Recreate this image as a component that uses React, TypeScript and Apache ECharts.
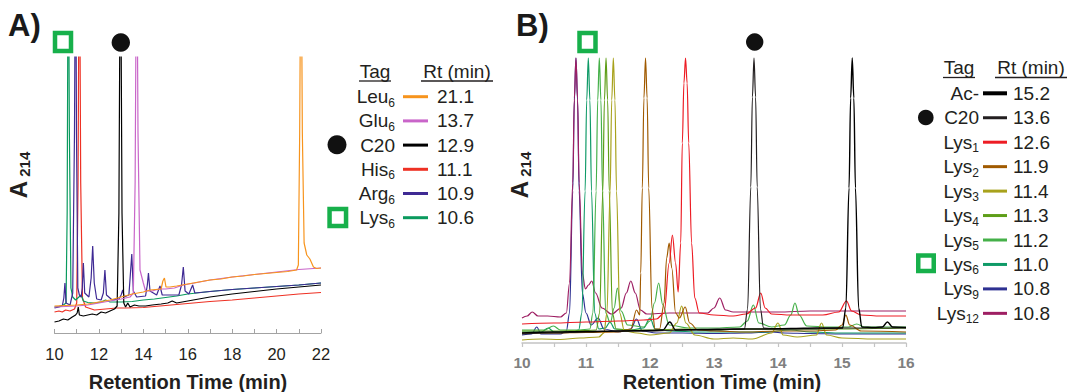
import React, { useEffect, useRef } from "react";
import * as echarts from "echarts";

const FONT = "'Liberation Sans', Arial, Helvetica, sans-serif";
const TXT = "#231f20";

// ---------- Panel A data (t in min, A214 in arbitrary units) ----------
const leu6A: number[][] = [[10,27],[10.5,27.5],[11,28],[11.5,29],[12,31],[12.5,33],[13,36],[13.5,39],[14,41],[14.3,43],[14.8,44],[14.88,52],[14.95,55],[15.02,46],[15.2,46],[15.5,47],[16,49],[16.5,51],[17,53],[17.5,54],[18,56],[18.5,57],[19,58.5],[19.5,59.5],[20,60.5],[20.5,61.5],[20.9,63],[20.98,68],[21.04,200],[21.1,430],[21.16,200],[21.24,90],[21.36,78],[21.5,74],[21.66,66],[21.8,64.5],[22,65]];
const glu6A: number[][] = [[10,26],[10.5,26.5],[11,27],[11.5,28],[12,30],[12.5,32],[13,34],[13.4,36],[13.55,40],[13.63,150],[13.7,430],[13.76,200],[13.85,63],[14.0,50],[14.1,42],[14.4,42],[14.7,44],[15,44],[15.4,45],[15.8,48],[16.3,50],[17,53],[18,56],[19,58.5],[20,61],[21,63.5],[22,65]];
const c20A: number[][] = [[10,11],[10.2,12],[10.4,14],[10.6,13],[10.8,16],[10.95,18],[11.02,20],[11.07,26],[11.12,18],[11.3,17],[11.5,18],[11.7,19],[11.9,18],[12.1,21],[12.3,20],[12.5,22],[12.7,24],[12.82,27],[12.9,120],[12.97,430],[13.04,120],[13.12,30],[13.2,26],[13.3,30],[13.4,26],[13.6,28],[13.8,27],[14.1,27],[14.4,28],[14.8,29],[15.1,30],[15.3,32],[15.5,30],[16,32],[17,36],[18,39],[19,41.5],[20,44],[21,46],[22,48]];
const his6A: number[][] = [[10,21],[10.2,22],[10.35,21],[10.5,23],[10.7,22],[10.9,24],[11.0,30],[11.06,150],[11.12,430],[11.18,150],[11.26,35],[11.4,26],[11.8,23],[12.3,24],[12.8,25],[13.2,25],[14,25.5],[15,27.5],[16,29.5],[17,31.5],[18,33],[19,35],[20,37],[21,39],[22,40.5]];
const arg6A: number[][] = [[10,25],[10.2,26],[10.35,27],[10.42,35],[10.47,50],[10.52,30],[10.7,28],[10.82,40],[10.9,200],[10.95,430],[10.99,200],[11.05,45],[11.12,38],[11.2,36],[11.25,45],[11.3,70],[11.36,40],[11.55,36],[11.65,55],[11.72,87],[11.79,50],[11.9,34],[12.1,33],[12.2,40],[12.27,63],[12.34,38],[12.6,33],[12.9,34],[13.0,38],[13.07,43],[13.14,36],[13.35,38],[13.42,60],[13.48,79],[13.55,42],[13.7,36],[14.1,37],[14.18,48],[14.23,60],[14.3,42],[14.6,38],[14.75,47],[14.85,38],[15.2,38],[15.6,38],[15.72,48],[15.8,66],[15.88,42],[16.05,39],[16.22,48],[16.32,40],[17,41.5],[18,43.5],[19,45],[20,46.5],[21,48],[22,50]];
const lys6A: number[][] = [[10,26],[10.2,26.5],[10.4,28],[10.52,30],[10.57,120],[10.62,430],[10.67,200],[10.74,45],[10.82,36],[10.95,33],[11.1,36],[11.2,38],[11.3,32],[11.5,30.5],[11.8,30],[12.1,31],[12.3,33],[12.5,31],[13,31],[13.5,31.5],[14,33],[14.5,34],[15,35.5],[15.5,37],[16,39],[17,41.5],[18,43.5],[19,45],[20,46.5],[21,48],[22,50]];

// ---------- Panel B data ----------
const acB: number[][] = [[10,10],[10.5,11],[11,11.5],[11.5,12],[12,12.5],[12.2,13],[12.31,21],[12.4,13],[12.8,13.5],[13.3,14],[13.8,14],[14.2,14.5],[14.6,15],[15.01,15],[15.06,35],[15.11,155],[15.135,245],[15.16,285],[15.185,245],[15.21,155],[15.26,35],[15.31,16],[15.5,15.5],[15.63,16],[15.71,21],[15.79,16],[16,15.5]];
const c20B: number[][] = [[10,9],[10.5,10],[11,11],[11.5,12],[12,12],[12.5,13],[13,13],[13.475,14],[13.525,34],[13.575,156],[13.6,246],[13.625,285],[13.65,246],[13.675,156],[13.725,34],[13.775,15],[14,14],[14.5,14],[15,15],[15.5,15],[16,15]];
const lys1B: number[][] = [[10,19],[10.5,20],[11,21],[11.5,22],[11.9,23],[12.1,24],[12.22,30],[12.3,80],[12.35,108],[12.4,80],[12.44,51],[12.48,100],[12.505,200],[12.53,260],[12.555,285],[12.58,260],[12.605,200],[12.65,100],[12.7,45],[12.77,30],[13,28],[13.3,27],[13.5,29],[13.65,35],[13.73,50],[13.8,35],[13.9,29],[14.2,28],[14.5,28],[14.7,28],[14.95,31],[15.07,42],[15.15,32],[15.3,28],[15.6,27],[16,27]];
const lys2B: number[][] = [[10,10],[10.5,10],[11,10.5],[11.5,11],[11.7,14],[11.79,33],[11.84,28],[11.855,70],[11.88,155],[11.905,245],[11.93,285],[11.955,245],[11.98,155],[12.03,35],[12.08,14],[12.15,14],[12.22,40],[12.26,85],[12.3,100],[12.34,75],[12.4,30],[12.46,25],[12.55,36],[12.62,20],[12.75,13],[13,12],[13.5,11],[14,12],[14.5,12],[14.9,13],[15,18],[15.06,28],[15.12,18],[15.3,12],[16,11]];
const lys3B: number[][] = [[10,3],[10.3,4],[10.6,3.5],[10.9,5],[11.2,6],[11.28,10],[11.327,30],[11.377,152],[11.402,243],[11.427,285],[11.452,243],[11.477,152],[11.527,30],[11.6,12],[11.8,10],[12,8],[12.3,10],[12.42,20],[12.495,37],[12.56,20],[12.7,8],[13,4],[13.3,5],[13.6,4],[13.9,10],[14.0,20],[14.08,8],[14.3,6],[14.6,8],[14.68,20],[14.76,8],[15,5],[15.5,4],[16,4]];
const lys4B: number[][] = [[10,12],[10.5,12],[11,12.5],[11.16,13],[11.213,30],[11.263,152],[11.288,243],[11.313,285],[11.338,243],[11.363,152],[11.413,30],[11.47,14],[11.7,13],[12,13],[12.5,14],[13,13],[13.5,14],[14,14],[14.5,14],[15,14],[15.5,14.5],[16,15]];
const lys5B: number[][] = [[10,13],[10.35,13],[10.49,17],[10.6,13],[10.9,13],[11.06,14],[11.108,30],[11.158,152],[11.183,243],[11.208,285],[11.233,243],[11.258,152],[11.308,30],[11.38,20],[11.44,35],[11.49,55],[11.55,32],[11.65,18],[11.9,16],[12.0,22],[12.07,40],[12.135,60],[12.2,38],[12.3,18],[12.6,15],[13,15],[13.4,16],[13.52,22],[13.615,38],[13.7,20],[13.9,16],[14.1,18],[14.2,28],[14.265,40],[14.33,28],[14.45,17],[14.8,16],[15.1,16],[15.23,19],[15.35,16],[16,16]];
const lys6B: number[][] = [[10,11],[10.3,11],[10.41,15],[10.5,11],[10.8,11],[10.886,13],[10.936,30],[10.986,152],[11.011,243],[11.036,285],[11.061,243],[11.086,152],[11.136,30],[11.2,14],[11.3,15],[11.375,21],[11.45,14],[11.7,13],[11.9,15],[12.0,25],[12.08,14],[12.3,12],[12.8,11],[13.2,11],[13.8,11],[14.2,13],[14.5,11],[15,10],[15.5,10],[16,10]];
const lys9B: number[][] = [[10,8],[10.15,9],[10.23,16],[10.3,9],[10.6,9],[10.693,12],[10.743,30],[10.793,152],[10.818,243],[10.843,285],[10.868,243],[10.893,152],[10.943,50],[11.0,30],[11.08,18],[11.19,25],[11.28,14],[11.5,11],[11.7,14],[11.79,24],[11.88,12],[12.1,10],[12.5,10],[13,9.5],[13.5,10],[13.9,11],[14.1,10],[14.5,9.5],[15,9],[15.5,9],[16,9]];
const lys12B: number[][] = [[10,25],[10.08,27],[10.16,31],[10.25,27],[10.4,27],[10.6,26],[10.693,30],[10.743,60],[10.793,160],[10.818,245],[10.843,285],[10.868,245],[10.893,160],[10.943,70],[10.99,54],[11.04,58],[11.09,62],[11.15,50],[11.25,35],[11.4,29],[11.55,35],[11.63,50],[11.7,62],[11.77,50],[11.85,33],[11.95,29],[12.3,30],[12.6,30],[12.9,30],[13.0,35],[13.09,45],[13.18,33],[13.3,31],[13.7,31],[14,31],[14.5,32],[15,32],[15.5,32],[16,32]];

// ---------- Legends ----------
const tagsA = ["Leu", "Glu", "C20", "His", "Arg", "Lys"];
const subsA = ["6", "6", "", "6", "6", "6"];
const rtA = ["21.1", "13.7", "12.9", "11.1", "10.9", "10.6"];
const colorsA = ["#f7941d", "#c965c9", "#000000", "#ee3124", "#3f2a94", "#0a9a5e"];
const dataA = [leu6A, glu6A, c20A, his6A, arg6A, lys6A];
const drawOrderA = [3, 5, 4, 2, 1, 0];

const tagsB = ["Ac-", "C20", "Lys", "Lys", "Lys", "Lys", "Lys", "Lys", "Lys", "Lys"];
const subsB = ["", "", "1", "2", "3", "4", "5", "6", "9", "12"];
const rtB = ["15.2", "13.6", "12.6", "11.9", "11.4", "11.3", "11.2", "11.0", "10.8", "10.8"];
const colorsB = ["#000000", "#231f20", "#ed1c24", "#a05a00", "#a8a21c", "#5e9e18", "#45b049", "#0f9a67", "#2e3192", "#9e1f63"];
const dataB = [acB, c20B, lys1B, lys2B, lys3B, lys4B, lys5B, lys6B, lys9B, lys12B];
const drawOrderB = [8, 9, 7, 6, 5, 4, 3, 2, 1, 0];
const legendLineB = [4, 3, 3, 3, 3, 3, 3, 3, 3, 3];

const GREEN_MARK = "#17b04b";

function legendRows(tags: string[], subs: string[], rts: string[], colors: string[], y0: number, dy: number, xr: number, l1: number, l2: number, xv: number, lw: number[]) {
  const els: any[] = [];
  tags.forEach((t, i) => {
    const y = y0 + i * dy;
    els.push({
      type: "text", x: xr, y,
      style: {
        text: subs[i] ? `{m|${t}}{s|${subs[i]}}` : `{m|${t}}`,
        align: "right", verticalAlign: "middle",
        rich: {
          m: { fontSize: 19, lineHeight: 24, fontFamily: FONT, fill: TXT, verticalAlign: "middle" },
          s: { fontSize: 12, lineHeight: 10, fontFamily: FONT, fill: TXT, verticalAlign: "bottom" },
        },
      },
    });
    els.push({ type: "line", shape: { x1: l1, y1: y, x2: l2, y2: y }, style: { stroke: colors[i], lineWidth: lw[i] } });
    els.push({ type: "text", x: xv, y, style: { text: rts[i], fontSize: 19, fontFamily: FONT, fill: TXT, align: "left", verticalAlign: "middle" } });
  });
  return els;
}

function header(xTag: number, xTag1: number, xTag2: number, xRt1: number, xRt2: number, y: number, yu: number) {
  return [
    { type: "text", x: xTag, y, style: { text: "Tag", fontSize: 19, fontFamily: FONT, fill: TXT, align: "center", verticalAlign: "middle" } },
    { type: "line", shape: { x1: xTag1, y1: yu, x2: xTag2, y2: yu }, style: { stroke: TXT, lineWidth: 1.3 } },
    { type: "text", x: (xRt1 + xRt2) / 2, y, style: { text: "Rt (min)", fontSize: 19, fontFamily: FONT, fill: TXT, align: "center", verticalAlign: "middle" } },
    { type: "line", shape: { x1: xRt1, y1: yu, x2: xRt2, y2: yu }, style: { stroke: TXT, lineWidth: 1.3 } },
  ];
}

function greenSquare(cx: number, cy: number, w: number, h: number) {
  return { type: "rect", shape: { x: cx - w / 2, y: cy - h / 2, width: w, height: h }, style: { fill: "#ffffff", stroke: GREEN_MARK, lineWidth: 4.5 } };
}
function dot(cx: number, cy: number, r: number) {
  return { type: "circle", shape: { cx, cy, r }, style: { fill: "#111111" } };
}
function yLabel(x: number, y: number) {
  return {
    type: "text", x, y, rotation: Math.PI / 2,
    style: {
      text: "{a|A}{b| 214}", align: "center", verticalAlign: "middle",
      rich: {
        a: { fontSize: 24, fontWeight: "bold", lineHeight: 28, fontFamily: FONT, fill: TXT, verticalAlign: "middle" },
        b: { fontSize: 15, fontWeight: "bold", lineHeight: 13, fontFamily: FONT, fill: TXT, verticalAlign: "bottom" },
      },
    },
  };
}

export default function App() {
  const ref = useRef<HTMLDivElement>(null);
  useEffect(() => {
    const chart = echarts.init(ref.current as HTMLDivElement, null, { renderer: "svg" });
    const series: any[] = [];
    drawOrderA.forEach((i) => {
      series.push({
        type: "line", xAxisIndex: 0, yAxisIndex: 0, data: dataA[i], symbol: "none", showSymbol: false,
        smooth: false, lineStyle: { color: colorsA[i], width: 1.2 }, silent: true, clip: true,
      });
    });
    drawOrderB.forEach((i) => {
      series.push({
        type: "line", xAxisIndex: 1, yAxisIndex: 1, data: dataB[i], symbol: "none", showSymbol: false,
        smooth: 0.35, smoothMonotone: "x", lineStyle: { color: colorsB[i], width: i === 0 ? 1.4 : 1.2 }, silent: true, clip: true,
      });
    });

    const graphics: any[] = [
      { type: "text", x: 8, y: 25, style: { text: "A)", fontSize: 31, fontWeight: "bold", fontFamily: FONT, fill: "#1a1a1a", align: "left", verticalAlign: "middle" } },
      { type: "text", x: 516, y: 25, style: { text: "B)", fontSize: 31, fontWeight: "bold", fontFamily: FONT, fill: "#1a1a1a", align: "left", verticalAlign: "middle" } },
      greenSquare(63, 42, 16, 18),
      dot(120.8, 42.5, 9.2),
      greenSquare(587.5, 42, 16, 18),
      dot(754.7, 42, 8.7),
      yLabel(18.3, 175),
      yLabel(519, 175),
      { type: "text", x: 188, y: 382, style: { text: "Retention Time (min)", fontSize: 20, fontWeight: "bold", fontFamily: FONT, fill: TXT, align: "center", verticalAlign: "middle" } },
      { type: "text", x: 722, y: 382, style: { text: "Retention Time (min)", fontSize: 20, fontWeight: "bold", fontFamily: FONT, fill: TXT, align: "center", verticalAlign: "middle" } },
      ...header(375, 359, 391, 421, 493, 71, 81),
      ...legendRows(tagsA, subsA, rtA, colorsA, 96.7, 24.2, 395, 403, 428, 437, [3, 3, 3, 3, 3, 3]),
      dot(337, 144.7, 9.5),
      greenSquare(337.8, 217.5, 16.5, 17),
      ...header(959, 943, 975, 995, 1067, 67.5, 77.5),
      ...legendRows(tagsB, subsB, rtB, colorsB, 93.3, 24.45, 979, 983, 1007, 1013, legendLineB),
      dot(925.8, 117.5, 7.8),
      greenSquare(926, 263.3, 15.5, 15.5),
    ];

    chart.setOption({
      animation: false,
      backgroundColor: "#ffffff",
      grid: [
        { left: 54.5, top: 57, width: 266.5, height: 276 },
        { left: 522, top: 57, width: 384, height: 286 },
      ],
      xAxis: [
        {
          gridIndex: 0, type: "value", min: 10, max: 22, interval: 1,
          axisLine: { show: true, lineStyle: { color: "#a3a3a3", width: 1 } },
          axisTick: { show: true, inside: true, length: 4, lineStyle: { color: "#a3a3a3" } },
          axisLabel: { formatter: (v: number) => (v % 2 === 0 ? String(v) : ""), color: TXT, fontSize: 16.5, fontFamily: FONT, margin: 12 },
          splitLine: { show: false },
        },
        {
          gridIndex: 1, type: "value", min: 10, max: 16, interval: 0.5,
          axisLine: { show: true, lineStyle: { color: "#c4c4c4", width: 1.5 } },
          axisTick: { show: true, inside: false, length: 4, lineStyle: { color: "#c4c4c4", width: 1.2 } },
          axisLabel: { formatter: (v: number) => (Number.isInteger(v) ? String(v) : ""), color: "#808080", fontWeight: "bold", fontSize: 15.5, fontFamily: FONT, margin: 11 },
          splitLine: { show: false },
        },
      ],
      yAxis: [
        { gridIndex: 0, type: "value", min: 0, max: 276, show: false, splitLine: { show: false } },
        { gridIndex: 1, type: "value", min: 0, max: 286, show: false, splitLine: { show: false } },
      ],
      series,
      graphic: graphics,
    });
    return () => chart.dispose();
  }, []);
  return <div ref={ref} style={{ position: "absolute", left: 0, top: 0, width: 1070, height: 392, background: "#fff" }} />;
}
